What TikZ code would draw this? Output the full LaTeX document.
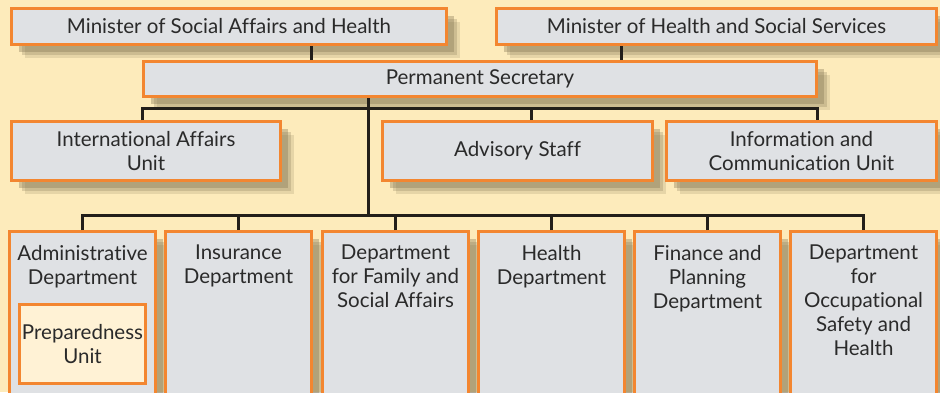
\documentclass[tikz,border=0pt]{standalone}
\usepackage{fontspec}
\setmainfont{Lato}[Ligatures=NoCommon]
\usetikzlibrary{shadows}
\definecolor{bg}{HTML}{FDEBBB}
\definecolor{boxfill}{HTML}{DFE1E4}
\definecolor{boxedge}{HTML}{F38630}
\definecolor{unitfill}{HTML}{FFF2D5}
\definecolor{linec}{HTML}{231F1A}
\definecolor{shadowc}{HTML}{7F7250}
\definecolor{textc}{HTML}{2A2A2A}
\begin{document}
\begin{tikzpicture}[x=1pt,y=-1pt,
  softshadow/.style={
    drop shadow={shadow xshift=13pt,shadow yshift=-13pt,opacity=0.18,fill=shadowc},
    drop shadow={shadow xshift=10pt,shadow yshift=-10pt,opacity=0.25,fill=shadowc},
    drop shadow={shadow xshift=7pt,shadow yshift=-7pt,opacity=0.35,fill=shadowc}},
  box/.style={draw=boxedge, line width=3pt, fill=boxfill, inner sep=0pt,
    text=textc, align=center, font=\fontsize{20.5}{24}\selectfont, softshadow},
  unitbox/.style={draw=boxedge, line width=3pt, fill=unitfill, inner sep=0pt,
    text=textc, align=center, font=\fontsize{20.5}{24}\selectfont},
  lbl/.style={inner sep=0pt, text=textc, align=center, font=\fontsize{20.5}{24}\selectfont, anchor=north},
  conn/.style={draw=linec, line width=3pt}]
\useasboundingbox (0,0) rectangle (940,392);
\clip (0,0) rectangle (940,392);
\fill[bg] (0,0) rectangle (940,392);

% top level
\node[box, minimum width=435pt, minimum height=36pt] (m1) at (229,26.5) {Minister of Social Affairs and Health};
\node[box, minimum width=440pt, minimum height=36pt] (m2) at (716.5,26.5) {Minister of Health and Social Services};
\node[box, minimum width=673pt, minimum height=35pt] (ps) at (480,79) {Permanent Secretary};

% units
\node[box, minimum width=269pt, minimum height=59pt] (ia) at (146,151) {International Affairs\\Unit};
\node[box, minimum width=270pt, minimum height=59pt] (as) at (517.5,151) {Advisory Staff};
\node[box, minimum width=270pt, minimum height=59pt] (ic) at (801.5,151) {Information and\\Communication Unit};

% departments
\node[box, minimum width=146pt, minimum height=167pt] (d1) at (82.5,315) {};
\node[box, minimum width=146pt, minimum height=167pt] (d2) at (238.5,315) {};
\node[box, minimum width=146pt, minimum height=167pt] (d3) at (395.5,315) {};
\node[box, minimum width=146pt, minimum height=167pt] (d4) at (551.5,315) {};
\node[box, minimum width=146pt, minimum height=167pt] (d5) at (707.5,315) {};
\node[box, minimum width=146pt, minimum height=167pt] (d6) at (863.5,315) {};

\node[lbl] (t1) at ([yshift=-15pt]d1.north) {Administrative\\Department};
\node[lbl] (t2) at ([yshift=-15pt]d2.north) {Insurance\\Department};
\node[lbl] (t3) at ([yshift=-15pt]d3.north) {Department\\for Family and\\Social Affairs};
\node[lbl] (t4) at ([yshift=-15pt]d4.north) {Health\\Department};
\node[lbl] (t5) at ([yshift=-15pt]d5.north) {Finance and\\Planning\\Department};
\node[lbl] (t6) at ([yshift=-15pt]d6.north) {Department\\for\\Occupational\\Safety and\\Health};

\node[unitbox, minimum width=126pt, minimum height=79pt] (pu) at (82.5,344) {Preparedness\\Unit};

% connectors
\coordinate (c1) at (311,0);
\coordinate (c2) at (621,0);
\coordinate (x1) at (142,108);
\coordinate (x2) at (531,108);
\coordinate (x3) at (817,108);
\coordinate (sp) at (368,0);
\coordinate (bus) at (0,215);
\draw[conn] (c1 |- m1.south) -- (c1 |- ps.north);
\draw[conn] (c2 |- m2.south) -- (c2 |- ps.north);
\draw[conn] (x1 |- ia.north) -- (x1) -- (x3) -- (x3 |- ic.north);
\draw[conn] (x2) -- (x2 |- as.north);
\draw[conn] (sp |- ps.south) -- (sp |- bus);
\draw[conn] (d1.north) -- (d1.north |- bus) -- (d6.north |- bus) -- (d6.north);
\foreach \d in {d2,d3,d4,d5} \draw[conn] (\d.north) -- (\d.north |- bus);
\end{tikzpicture}
\end{document}
